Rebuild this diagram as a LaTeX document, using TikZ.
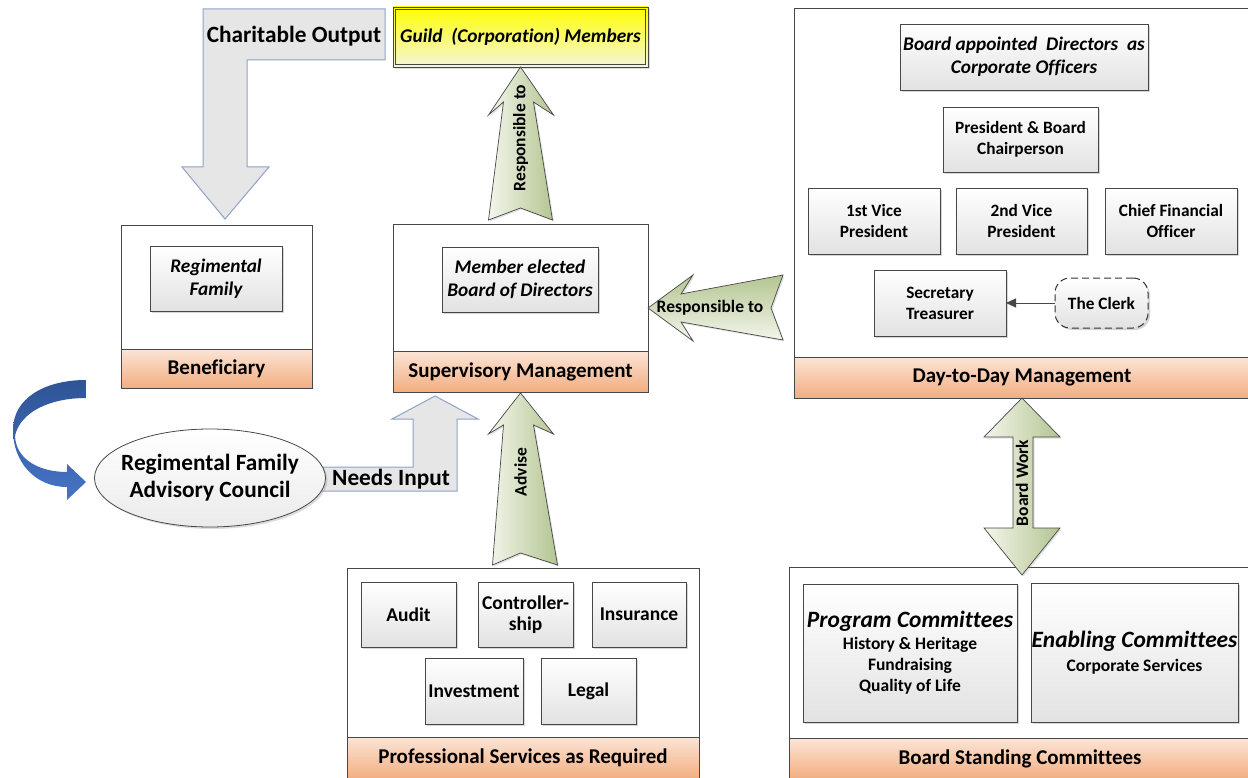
\documentclass[tikz,border=0pt]{standalone}
\usepackage{fontspec}
\setmainfont{Carlito}[Ligatures=NoCommon]
\usetikzlibrary{shadows,shapes.geometric,arrows.meta}

\definecolor{lineclr}{HTML}{474747}
\definecolor{bandtop}{HTML}{FCE4D6}
\definecolor{bandbot}{HTML}{F2AE80}
\definecolor{boxbot}{HTML}{E2E2E2}
\definecolor{greyfill}{HTML}{E6E6E6}
\definecolor{greyline}{HTML}{8EA3C7}
\definecolor{glight}{HTML}{F4F6EC}
\definecolor{gdark}{HTML}{B3C591}
\definecolor{bluedark}{HTML}{2F5496}
\definecolor{bluelight}{HTML}{4674C6}
\definecolor{guildtop}{HTML}{FFFF00}
\definecolor{guildbot}{HTML}{F5F5DC}

\newcommand\fsz[2]{\fontsize{#1}{#2}\selectfont}

\begin{document}
\begin{tikzpicture}[x=1pt,y=-1pt,
  font=\bfseries,
  cont/.style={draw=lineclr, fill=white, line width=0.8pt, inner sep=0pt, outer sep=0pt},
  band/.style={draw=lineclr, line width=0.8pt, top color=bandtop, bottom color=bandbot,
    inner sep=0pt, outer sep=0pt, font=\fsz{21}{24}\bfseries},
  ibox/.style={draw=lineclr, line width=0.8pt, top color=white, bottom color=boxbot,
    inner sep=0pt, outer sep=0pt, align=center, font=\fsz{17.3}{21}\bfseries,
    drop shadow={shadow xshift=2pt, shadow yshift=-2pt, opacity=0.35, fill=black!45}},
  itbox/.style={ibox, font=\fsz{19.3}{23}\bfseries\itshape},
  sbox/.style={ibox, font=\fsz{19.5}{21}\bfseries},
  garrow/.style={draw=lineclr, line width=0.7pt, left color=glight, right color=gdark,
    drop shadow={shadow xshift=1.5pt, shadow yshift=-1.5pt, opacity=0.25, fill=black!45}},
  garrowh/.style={garrow, top color=gdark, bottom color=glight},
  grarrow/.style={draw=greyline, line width=1pt, fill=greyfill},
  atext/.style={font=\fsz{17.5}{20}\bfseries, inner sep=0pt},
  bigtext/.style={font=\fsz{23.3}{27}\bfseries, inner sep=0pt}
]
\clip (0,0) rectangle (1248,778);

% ---- bent grey arrows ----
\draw[grarrow] (203,9) -- (385,9) -- (385,60) -- (247,60) -- (247,167) -- (269,167)
  -- (225,219) -- (182,167) -- (203,167) -- cycle;
\node[bigtext] (chout) at (294,36) {Charitable Output};

\draw[grarrow] (300,467) -- (413,467) -- (413,419) -- (392,419) -- (435,396) -- (478,419)
  -- (457,419) -- (457,491) -- (300,491) -- cycle;
\node[bigtext] (needs) at (391,479) {Needs Input};

% ---- curved blue arrow ----
\shade[top color=bluedark, bottom color=bluelight]
  (86,380) .. controls (45,380) and (13,398) .. (13,430)
  .. controls (13,462) and (35,487) .. (67,487) -- (67,500) -- (86,482) -- (67,464) -- (67,472)
  .. controls (40,472) and (16,460) .. (15,436)
  .. controls (20,412) and (50,398) .. (86,398) -- cycle;

% ---- advisory council ----
\node[ellipse, draw=lineclr, line width=0.8pt, top color=white, bottom color=boxbot!70,
  minimum width=231pt, minimum height=98pt, inner sep=0pt,
  drop shadow={shadow xshift=2pt, shadow yshift=-2pt, opacity=0.3, fill=black!45}]
  (rfac) at (210,478) {};
\node[align=center, font=\fsz{23.3}{27}\bfseries, inner sep=0pt] (rfactext) at (rfac.center)
  {Regimental Family\\Advisory Council};

% ---- guild ----
\node[draw=lineclr, line width=0.8pt, top color=guildtop, bottom color=guildbot,
  minimum width=255pt, minimum height=60pt, inner sep=0pt, outer sep=0pt,
  font=\fsz{19.4}{23}\bfseries\itshape,
  drop shadow={shadow xshift=2pt, shadow yshift=-2pt, opacity=0.3, fill=black!45}]
  (guild) at (520.5,37) {Guild\ \ (Corporation) Members};
\draw[lineclr, line width=0.5pt] ([shift={(2.5pt,-2.5pt)}]guild.north west)
  rectangle ([shift={(-2.5pt,2.5pt)}]guild.south east);

% ---- containers ----
\node[cont, minimum width=191pt, minimum height=163pt] (ben) at (216.5,306.5) {};
\node[band, minimum width=191pt, minimum height=39pt, anchor=south] (benband) at (ben.south) {Beneficiary};

\node[cont, minimum width=255pt, minimum height=168pt] (sup) at (520.5,308) {};
\node[band, minimum width=255pt, minimum height=41pt, anchor=south] (supband) at (sup.south) {Supervisory Management};

\node[cont, minimum width=456pt, minimum height=390pt] (day) at (1022,203) {};
\node[band, minimum width=456pt, minimum height=41pt, anchor=south] (dayband) at (day.south) {Day-to-Day Management};

\node[cont, minimum width=352pt, minimum height=211pt] (prof) at (523,673.5) {};
\node[band, minimum width=352pt, minimum height=42pt, anchor=south] (profband) at (prof.south) {Professional Services as Required};

\node[cont, minimum width=462pt, minimum height=212pt] (bsc) at (1020,673) {};
\node[band, minimum width=462pt, minimum height=41pt, anchor=south] (bscband) at (bsc.south) {Board Standing Committees};

% ---- inner boxes ----
\node[itbox, minimum width=132pt, minimum height=65pt] (regfam) at (216,278.5) {Regimental\\Family};
\node[itbox, minimum width=156pt, minimum height=65pt] (mboard) at (520,279.5) {Member elected\\Board of Directors};

\node[itbox, minimum width=248pt, minimum height=66pt]
  (appointed) at (1024,57) {Board appointed\ \ Directors\ \ as\\Corporate Officers};
\node[ibox, minimum width=155pt, minimum height=65pt] (pres) at (1020.5,139.5) {President \& Board\\Chairperson};
\node[ibox, minimum width=132pt, minimum height=66pt] (vp1) at (874,221) {1st Vice\\President};
\node[ibox, minimum width=131pt, minimum height=66pt] (vp2) at (1021.5,221) {2nd Vice\\President};
\node[ibox, minimum width=132pt, minimum height=66pt] (cfo) at (1171,221) {Chief Financial\\Officer};
\node[ibox, minimum width=132pt, minimum height=66pt] (sec) at (940,303) {Secretary\\Treasurer};
\node[ibox, draw=black!80, line width=1pt, rounded corners=15pt, dash pattern=on 7pt off 4pt,
  minimum width=93pt, minimum height=50pt] (clerk) at (1101.5,303) {The Clerk};
\draw[lineclr, line width=1pt, -{Triangle[length=10pt,width=9pt]}] (clerk.west) -- (sec.east);

\node[sbox, minimum width=95pt, minimum height=65pt] (audit) at (408.5,614.5) {Audit};
\node[sbox, minimum width=95pt, minimum height=65pt] (ctrl) at (525.5,614.5) {Controller-\\ship};
\node[sbox, minimum width=94pt, minimum height=65pt] (ins) at (639,614.5) {Insurance};
\node[sbox, minimum width=98pt, minimum height=66pt] (inv) at (474,691) {Investment};
\node[sbox, minimum width=95pt, minimum height=66pt] (legal) at (588.5,691) {Legal};

\node[ibox, font=\fsz{17.5}{21}\bfseries, minimum width=214pt, minimum height=138pt] (prog) at (910,653)
  {{\fsz{23.4}{21}\bfseries\itshape Program Committees}\\[1pt]History \& Heritage\\Fundraising\\Quality of Life};
\node[ibox, font=\fsz{17.5}{21}\bfseries, minimum width=207pt, minimum height=139pt] (enab) at (1134.5,652.5)
  {{\fsz{23.4}{21}\bfseries\itshape Enabling Committees}\\[3pt]Corporate Services};

% ---- green block arrows ----
\draw[garrow, shift={(guild.south)}] (0,0) -- (33,48) -- (13,35) -- (32,153) -- (0,141)
  -- (-32,153) -- (-17,35) -- (-32,48) -- cycle;
\node[atext, rotate=90] (resp1) at ([yshift=-71pt]guild.south) {Responsible to};

\draw[garrowh, shift={(sup.east)}] (0,0) -- (45,-33) -- (33,-14) -- (135,-33) -- (123,0)
  -- (135,32) -- (33,14) -- (45,33) -- cycle;
\node[atext] (resp2) at ([xshift=62pt]sup.east) {Responsible to};

\draw[garrow, shift={(supband.south)}] (0,1) -- (33,42) -- (13,33) -- (37,173) -- (0,161)
  -- (-28,173) -- (-17,33) -- (-32,42) -- cycle;
\node[atext, rotate=90] (advise) at ([yshift=-80pt]supband.south) {Advise};

\draw[garrow, shift={(dayband.south)}] (0,0) -- (38,39) -- (11,39) -- (11,130) -- (38,130)
  -- (0,177) -- (-38,130) -- (-9,130) -- (-9,39) -- (-38,39) -- cycle;
\node[atext, rotate=90] (bwork) at ([yshift=-85pt]dayband.south) {Board Work};

\end{tikzpicture}
\end{document}
